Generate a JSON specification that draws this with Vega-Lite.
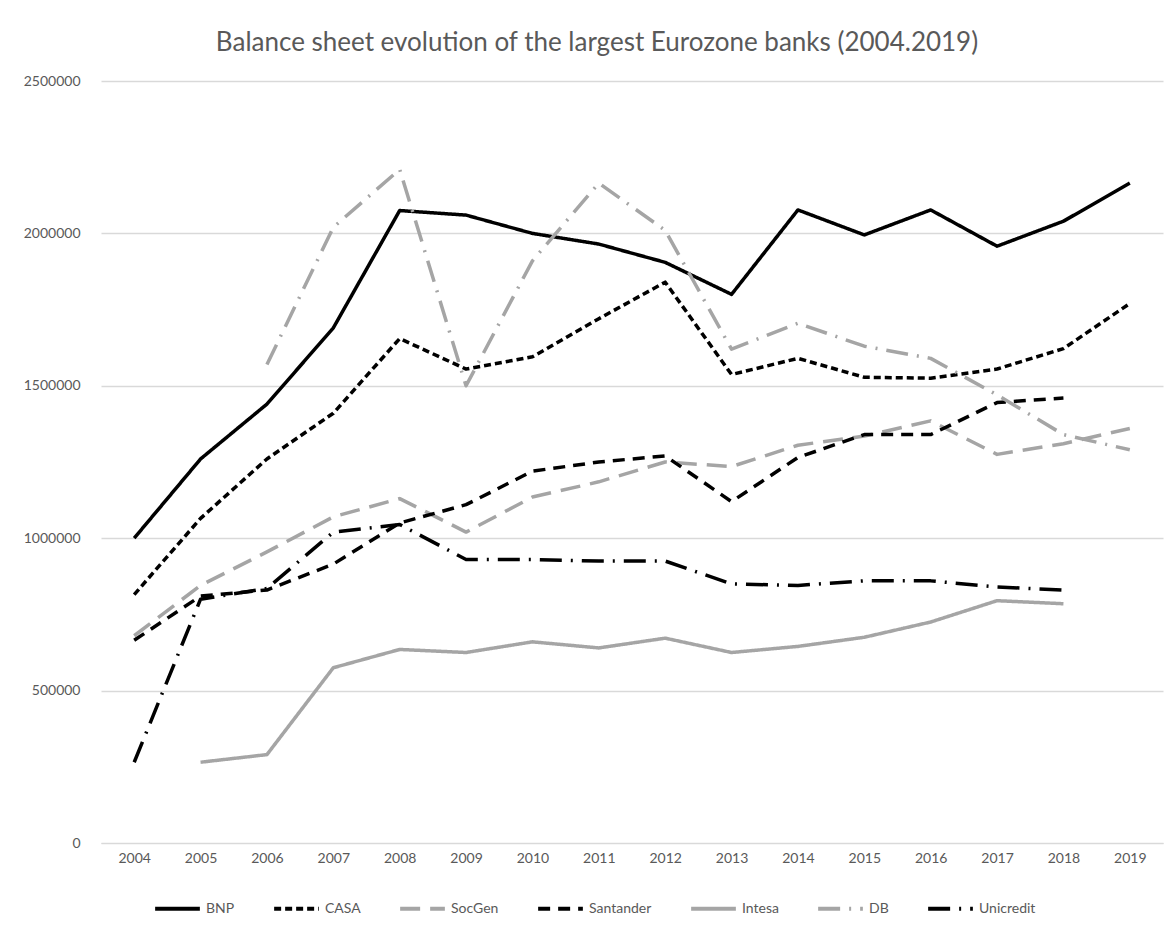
{
  "$schema": "https://vega.github.io/schema/vega-lite/v6.json",
  "width": 1062,
  "height": 762,
  "autosize": "none",
  "padding": {"left": 101, "top": 81, "right": 13, "bottom": 83},
  "background": "white",
  "title": {
    "text": "Balance sheet evolution of the largest Eurozone banks (2004.2019)",
    "fontSize": 26,
    "font": "Lato",
    "fontWeight": "normal",
    "color": "#595959",
    "anchor": "middle",
    "offset": 18,
    "dx": -35
  },
  "config": {
    "view": {"stroke": null},
    "axis": {"labelFont": "Lato", "labelFontSize": 14, "labelColor": "#595959", "titleFont": "Lato"},
    "legend": {"labelFont": "Lato", "labelFontSize": 14, "labelColor": "#595959"}
  },
  "data": {
    "values": [
      {"year": "2004", "bank": "BNP", "value": 1000000},
      {"year": "2005", "bank": "BNP", "value": 1260000},
      {"year": "2006", "bank": "BNP", "value": 1440000},
      {"year": "2007", "bank": "BNP", "value": 1690000},
      {"year": "2008", "bank": "BNP", "value": 2075000},
      {"year": "2009", "bank": "BNP", "value": 2060000},
      {"year": "2010", "bank": "BNP", "value": 2000000},
      {"year": "2011", "bank": "BNP", "value": 1965000},
      {"year": "2012", "bank": "BNP", "value": 1905000},
      {"year": "2013", "bank": "BNP", "value": 1800000},
      {"year": "2014", "bank": "BNP", "value": 2077000},
      {"year": "2015", "bank": "BNP", "value": 1995000},
      {"year": "2016", "bank": "BNP", "value": 2077000},
      {"year": "2017", "bank": "BNP", "value": 1958000},
      {"year": "2018", "bank": "BNP", "value": 2040000},
      {"year": "2019", "bank": "BNP", "value": 2165000},

      {"year": "2004", "bank": "CASA", "value": 815000},
      {"year": "2005", "bank": "CASA", "value": 1065000},
      {"year": "2006", "bank": "CASA", "value": 1260000},
      {"year": "2007", "bank": "CASA", "value": 1410000},
      {"year": "2008", "bank": "CASA", "value": 1655000},
      {"year": "2009", "bank": "CASA", "value": 1555000},
      {"year": "2010", "bank": "CASA", "value": 1595000},
      {"year": "2011", "bank": "CASA", "value": 1720000},
      {"year": "2012", "bank": "CASA", "value": 1840000},
      {"year": "2013", "bank": "CASA", "value": 1537000},
      {"year": "2014", "bank": "CASA", "value": 1590000},
      {"year": "2015", "bank": "CASA", "value": 1528000},
      {"year": "2016", "bank": "CASA", "value": 1525000},
      {"year": "2017", "bank": "CASA", "value": 1555000},
      {"year": "2018", "bank": "CASA", "value": 1622000},
      {"year": "2019", "bank": "CASA", "value": 1770000},

      {"year": "2004", "bank": "SocGen", "value": 680000},
      {"year": "2005", "bank": "SocGen", "value": 845000},
      {"year": "2006", "bank": "SocGen", "value": 955000},
      {"year": "2007", "bank": "SocGen", "value": 1070000},
      {"year": "2008", "bank": "SocGen", "value": 1130000},
      {"year": "2009", "bank": "SocGen", "value": 1020000},
      {"year": "2010", "bank": "SocGen", "value": 1135000},
      {"year": "2011", "bank": "SocGen", "value": 1185000},
      {"year": "2012", "bank": "SocGen", "value": 1250000},
      {"year": "2013", "bank": "SocGen", "value": 1235000},
      {"year": "2014", "bank": "SocGen", "value": 1305000},
      {"year": "2015", "bank": "SocGen", "value": 1335000},
      {"year": "2016", "bank": "SocGen", "value": 1385000},
      {"year": "2017", "bank": "SocGen", "value": 1275000},
      {"year": "2018", "bank": "SocGen", "value": 1310000},
      {"year": "2019", "bank": "SocGen", "value": 1360000},

      {"year": "2004", "bank": "Santander", "value": 665000},
      {"year": "2005", "bank": "Santander", "value": 810000},
      {"year": "2006", "bank": "Santander", "value": 830000},
      {"year": "2007", "bank": "Santander", "value": 915000},
      {"year": "2008", "bank": "Santander", "value": 1050000},
      {"year": "2009", "bank": "Santander", "value": 1110000},
      {"year": "2010", "bank": "Santander", "value": 1220000},
      {"year": "2011", "bank": "Santander", "value": 1250000},
      {"year": "2012", "bank": "Santander", "value": 1270000},
      {"year": "2013", "bank": "Santander", "value": 1120000},
      {"year": "2014", "bank": "Santander", "value": 1265000},
      {"year": "2015", "bank": "Santander", "value": 1340000},
      {"year": "2016", "bank": "Santander", "value": 1340000},
      {"year": "2017", "bank": "Santander", "value": 1445000},
      {"year": "2018", "bank": "Santander", "value": 1460000},

      {"year": "2005", "bank": "Intesa", "value": 265000},
      {"year": "2006", "bank": "Intesa", "value": 290000},
      {"year": "2007", "bank": "Intesa", "value": 575000},
      {"year": "2008", "bank": "Intesa", "value": 635000},
      {"year": "2009", "bank": "Intesa", "value": 625000},
      {"year": "2010", "bank": "Intesa", "value": 660000},
      {"year": "2011", "bank": "Intesa", "value": 640000},
      {"year": "2012", "bank": "Intesa", "value": 672000},
      {"year": "2013", "bank": "Intesa", "value": 625000},
      {"year": "2014", "bank": "Intesa", "value": 645000},
      {"year": "2015", "bank": "Intesa", "value": 675000},
      {"year": "2016", "bank": "Intesa", "value": 725000},
      {"year": "2017", "bank": "Intesa", "value": 795000},
      {"year": "2018", "bank": "Intesa", "value": 785000},

      {"year": "2006", "bank": "DB", "value": 1570000},
      {"year": "2007", "bank": "DB", "value": 2020000},
      {"year": "2008", "bank": "DB", "value": 2210000},
      {"year": "2009", "bank": "DB", "value": 1500000},
      {"year": "2010", "bank": "DB", "value": 1910000},
      {"year": "2011", "bank": "DB", "value": 2165000},
      {"year": "2012", "bank": "DB", "value": 2010000},
      {"year": "2013", "bank": "DB", "value": 1620000},
      {"year": "2014", "bank": "DB", "value": 1705000},
      {"year": "2015", "bank": "DB", "value": 1630000},
      {"year": "2016", "bank": "DB", "value": 1590000},
      {"year": "2017", "bank": "DB", "value": 1470000},
      {"year": "2018", "bank": "DB", "value": 1340000},
      {"year": "2019", "bank": "DB", "value": 1290000},

      {"year": "2004", "bank": "Unicredit", "value": 265000},
      {"year": "2005", "bank": "Unicredit", "value": 800000},
      {"year": "2006", "bank": "Unicredit", "value": 835000},
      {"year": "2007", "bank": "Unicredit", "value": 1020000},
      {"year": "2008", "bank": "Unicredit", "value": 1045000},
      {"year": "2009", "bank": "Unicredit", "value": 930000},
      {"year": "2010", "bank": "Unicredit", "value": 930000},
      {"year": "2011", "bank": "Unicredit", "value": 925000},
      {"year": "2012", "bank": "Unicredit", "value": 925000},
      {"year": "2013", "bank": "Unicredit", "value": 850000},
      {"year": "2014", "bank": "Unicredit", "value": 845000},
      {"year": "2015", "bank": "Unicredit", "value": 860000},
      {"year": "2016", "bank": "Unicredit", "value": 860000},
      {"year": "2017", "bank": "Unicredit", "value": 840000},
      {"year": "2018", "bank": "Unicredit", "value": 830000}
    ]
  },
  "mark": {"type": "line", "strokeWidth": 3.5, "strokeJoin": "round"},
  "encoding": {
    "x": {
      "field": "year",
      "type": "ordinal",
      "scale": {"type": "point", "padding": 0.5},
      "axis": {"title": null, "labelAngle": 0, "ticks": false, "domain": true, "domainColor": "#d9d9d9", "labelPadding": 8, "grid": false}
    },
    "y": {
      "field": "value",
      "type": "quantitative",
      "scale": {"domain": [0, 2500000], "nice": false},
      "axis": {"title": null, "values": [0, 500000, 1000000, 1500000, 2000000, 2500000], "format": "d", "ticks": false, "domain": false, "gridColor": "#d9d9d9", "gridWidth": 1.5, "labelPadding": 21}
    },
    "color": {
      "field": "bank",
      "type": "nominal",
      "scale": {
        "domain": ["BNP", "CASA", "SocGen", "Santander", "Intesa", "DB", "Unicredit"],
        "range": ["#000000", "#000000", "#a5a5a5", "#000000", "#a5a5a5", "#a5a5a5", "#000000"]
      },
      "legend": {"title": null, "orient": "none", "legendX": 52, "legendY": 803, "direction": "horizontal", "symbolType": "stroke", "symbolSize": 2000, "symbolStrokeWidth": 4, "columnPadding": 31, "labelOffset": 4}
    },
    "strokeDash": {
      "field": "bank",
      "type": "nominal",
      "scale": {
        "domain": ["BNP", "CASA", "SocGen", "Santander", "Intesa", "DB", "Unicredit"],
        "range": [[1, 0], [7, 4], [20, 10], [12, 8], [1, 0], [22, 9, 2, 9], [22, 9, 2, 9]]
      },
      "legend": {"title": null, "orient": "none", "legendX": 52, "legendY": 803, "direction": "horizontal", "symbolType": "stroke", "symbolSize": 2000, "symbolStrokeWidth": 4, "columnPadding": 31, "labelOffset": 4}
    }
  }
}
